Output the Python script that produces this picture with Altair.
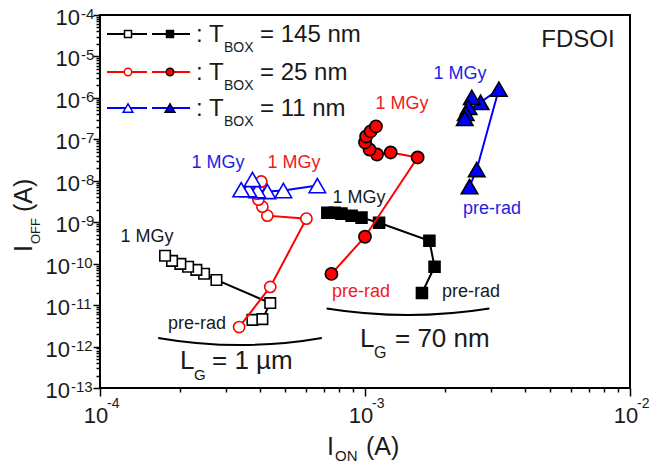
import math
import altair as alt
import pandas as pd

# ---------------- data ----------------
# T_BOX = 145 nm, L_G = 1 um (open squares), pre-rad -> 1 MGy
T145_1U_ION = [3.76e-4, 4.10e-4, 4.39e-4, 2.75e-4, 2.47e-4, 2.31e-4, 2.15e-4, 2.01e-4, 1.87e-4, 1.76e-4]
T145_1U_IOFF = [4.4e-12, 4.6e-12, 1.12e-11, 4.05e-11, 5.7e-11, 7.1e-11, 8.4e-11, 9.9e-11, 1.17e-10, 1.55e-10]
# T_BOX = 25 nm, L_G = 1 um (open circles)
T25_1U_ION = [3.35e-4, 4.39e-4, 6.01e-4, 4.28e-4, 4.10e-4, 3.96e-4, 3.89e-4, 3.96e-4, 4.06e-4]
T25_1U_IOFF = [2.95e-12, 2.74e-11, 1.22e-9, 1.44e-9, 2.37e-9, 3.51e-9, 4.9e-9, 6.8e-9, 9.6e-9]
# T_BOX = 11 nm, L_G = 1 um (open triangles)
T11_1U_ION = [6.61e-4, 4.92e-4, 4.28e-4, 3.92e-4, 3.63e-4, 3.41e-4, 3.76e-4]
T11_1U_IOFF = [7.65e-9, 5.8e-9, 5.5e-9, 5.8e-9, 6.1e-9, 6.1e-9, 1.07e-8]
# T_BOX = 145 nm, L_G = 70 nm (filled squares)
T145_70_ION = [1.64e-3, 1.83e-3, 1.75e-3, 1.13e-3, 9.7e-4, 8.9e-4, 8.15e-4, 7.67e-4, 7.21e-4]
T145_70_IOFF = [1.96e-11, 8.4e-11, 3.56e-10, 9.7e-10, 1.29e-9, 1.44e-9, 1.61e-9, 1.70e-9, 1.70e-9]
# T_BOX = 25 nm, L_G = 70 nm (filled circles)
T25_70_ION = [7.47e-4, 1.00e-3, 1.58e-3, 1.25e-3, 1.11e-3, 1.04e-3, 1.00e-3, 1.01e-3, 1.05e-3, 1.10e-3]
T25_70_IOFF = [5.66e-11, 4.46e-10, 3.65e-8, 4.82e-8, 4.31e-8, 5.69e-8, 8.4e-8, 1.17e-7, 1.55e-7, 2.05e-7]
# T_BOX = 11 nm, L_G = 70 nm (filled triangles)
T11_70_ION = [2.48e-3, 2.64e-3, 3.20e-3, 2.73e-3, 2.53e-3, 2.46e-3, 2.40e-3, 2.38e-3]
T11_70_IOFF = [7.24e-9, 1.87e-8, 1.62e-6, 7.82e-7, 1.03e-6, 5.92e-7, 4.24e-7, 3.21e-7]

# tick labels
X_DECADES = [1e-4, 1e-3, 1e-2]
X_EXPS = ["-4", "-3", "-2"]
Y_DECADES = [1e-4, 1e-5, 1e-6, 1e-7, 1e-8, 1e-9, 1e-10, 1e-11, 1e-12, 1e-13]
Y_EXPS = ["-4", "-5", "-6", "-7", "-8", "-9", "-10", "-11", "-12", "-13"]

LEGEND_VALUES = ["= 145 nm", "= 25 nm", "= 11 nm"]

# ---------------- layout ----------------
W, H = 530, 373
OX, OY = 100, 15          # plot origin on the page
FONT = "Liberation Sans"
RED = "#ff0000"
BLUE = "#0000ff"
TXT = "#1a1a1a"


def rx(v):
    return v - OX


def ry(v):
    return v - OY


XTICKS = [m * 10.0 ** e for e in (-4, -3) for m in range(1, 10)] + [1e-2]
YTICKS = [m * 10.0 ** e for e in range(-13, -4) for m in range(1, 10)] + [1e-4]
MAJOR = "abs(log(datum.value)/LN10 - round(log(datum.value)/LN10)) < 0.001"

xaxis = alt.Axis(values=XTICKS, labels=False, title=None, domain=False, grid=False,
                 ticks=True, tickColor="black", tickWidth=1.5,
                 tickSize={"condition": {"test": MAJOR, "value": 8}, "value": 4})
yaxis = alt.Axis(values=YTICKS, labels=False, title=None, domain=False, grid=False,
                 ticks=True, tickColor="black", tickWidth=1.5,
                 tickSize={"condition": {"test": MAJOR, "value": 7}, "value": 4})

X = alt.X("x:Q", scale=alt.Scale(type="log", domain=[1e-4, 1e-2]), axis=xaxis)
Y = alt.Y("y:Q", scale=alt.Scale(type="log", domain=[1e-13, 1e-4]), axis=yaxis)

dummy = pd.DataFrame({"a": [0]})


def series(xs, ys, color, shape, fill, stroke, size):
    df = pd.DataFrame({"x": xs, "y": ys, "o": list(range(len(xs)))})
    line = alt.Chart(df).mark_line(color=color, strokeWidth=2).encode(
        x=X, y=Y, order="o:Q")
    pts = alt.Chart(df).mark_point(shape=shape, filled=True, fill=fill, stroke=stroke,
                                   strokeWidth=1.6, size=size, opacity=1).encode(x=X, y=Y)
    return [line, pts]


def text(t, x, y, size=18, color=TXT, align="center", baseline="middle", angle=0):
    kw = dict(text=t, font=FONT, fontSize=size, color=color, align=align, baseline=baseline)
    if angle:
        kw["angle"] = angle
    return alt.Chart(dummy).mark_text(**kw).encode(x=alt.value(rx(x)), y=alt.value(ry(y)))


def brace(cx, cy, r, half):
    return alt.Chart(dummy).mark_arc(radius=r, radius2=r, theta=math.pi - half,
                                     theta2=math.pi + half, stroke="black",
                                     strokeWidth=2, fillOpacity=0).encode(
        x=alt.value(rx(cx)), y=alt.value(ry(cy)))


layers = []
# braces
layers.append(brace(240, -133, 478, 0.172))
layers.append(brace(408, -199, 514, 0.159))

# series
layers += series(T145_1U_ION, T145_1U_IOFF, "black", "square", "white", "black", 110)
layers += series(T25_1U_ION, T25_1U_IOFF, RED, "circle", "white", RED, 125)
layers += series(T11_1U_ION, T11_1U_IOFF, BLUE, "triangle-up", "white", BLUE, 270)
layers += series(T145_70_ION, T145_70_IOFF, "black", "square", "black", "black", 120)
layers += series(T25_70_ION, T25_70_IOFF, RED, "circle", RED, "black", 150)
layers += series(T11_70_ION, T11_70_IOFF, BLUE, "triangle-up", BLUE, "black", 270)

# annotations
layers.append(text("1 MGy", 147, 237))
layers.append(text("1 MGy", 218, 163, color="#1e1ee6"))
layers.append(text("1 MGy", 294, 163, color="#ee1c1c"))
layers.append(text("1 MGy", 359, 198))
layers.append(text("1 MGy", 402, 104, color="#ee1c1c"))
layers.append(text("1 MGy", 460, 74, color="#1e1ee6"))
layers.append(text("pre-rad", 197, 324))
layers.append(text("pre-rad", 361, 292, color="#ee1c1c"))
layers.append(text("pre-rad", 471, 292))
layers.append(text("pre-rad", 492, 209, color="#1e1ee6"))
layers.append(text("FDSOI", 578, 40, size=24))

# L_G labels
layers.append(text("L", 180, 369, size=26, align="left", baseline="alphabetic"))
layers.append(text("G", 194, 380, size=15, align="left", baseline="alphabetic"))
layers.append(text("= 1 µm", 212, 369, size=26, align="left", baseline="alphabetic"))
layers.append(text("L", 360, 347, size=26, align="left", baseline="alphabetic"))
layers.append(text("G", 374, 358, size=16, align="left", baseline="alphabetic"))
layers.append(text("= 70 nm", 395, 347, size=26, align="left", baseline="alphabetic"))

# legend
rows = [
    (34, "black", "square", "white", "black", "black", "black", 49, 49),
    (72, RED, "circle", "white", RED, RED, "black", 55, 55),
    (108, BLUE, "triangle-up", "white", BLUE, BLUE, "black", 95, 95),
]
for i, (yy, col, shp, f1, s1, f2, s2, z1, z2) in enumerate(rows):
    for (a, b, m, f, s, z) in ((107, 147, 128, f1, s1, z1), (152, 190, 170, f2, s2, z2)):
        layers.append(alt.Chart(dummy).mark_rule(color=col, strokeWidth=2).encode(
            x=alt.value(rx(a)), x2=alt.value(rx(b)), y=alt.value(ry(yy))))
        layers.append(alt.Chart(dummy).mark_point(shape=shp, filled=True, fill=f, stroke=s,
                                                  strokeWidth=1.5, size=z, opacity=1).encode(
            x=alt.value(rx(m)), y=alt.value(ry(yy))))
    base = yy + 8
    layers.append(text(": T", 196, base, size=24, align="left", baseline="alphabetic"))
    layers.append(text("BOX", 224, base + 10, size=14, align="left", baseline="alphabetic"))
    layers.append(text(LEGEND_VALUES[i], 260, base, size=24, align="left", baseline="alphabetic"))

# axis titles
layers.append(text("I", 32, 252, size=25, align="left", baseline="alphabetic", angle=270))
layers.append(text("OFF", 40, 244, size=13, align="left", baseline="alphabetic", angle=270))
layers.append(text("(A)", 32, 212, size=25, align="left", baseline="alphabetic", angle=270))
layers.append(text("I", 327, 455, size=25, align="left", baseline="alphabetic"))
layers.append(text("ON", 335, 461, size=15, align="left", baseline="alphabetic"))
layers.append(text("(A)", 366, 455, size=25, align="left", baseline="alphabetic"))

# tick labels
xlab = pd.DataFrame({"x": X_DECADES, "e": X_EXPS})
layers.append(alt.Chart(xlab).mark_text(text="10", font=FONT, fontSize=22, color=TXT,
                                        align="center", baseline="alphabetic", dx=-4).encode(
    x=X, y=alt.value(ry(423))))
layers.append(alt.Chart(xlab).mark_text(font=FONT, fontSize=14, color=TXT,
                                        align="left", baseline="alphabetic", dx=7).encode(
    x=X, y=alt.value(ry(408)), text="e:N"))

ylab = pd.DataFrame({"y": Y_DECADES, "e": Y_EXPS})
for cond, tenx, expx in (("length(datum.e) < 3", -20, -19), ("length(datum.e) >= 3", -30, -29)):
    layers.append(alt.Chart(ylab).transform_filter(cond).mark_text(
        text="10", font=FONT, fontSize=22, color=TXT, align="right",
        baseline="alphabetic", dy=10).encode(x=alt.value(tenx), y=Y))
    layers.append(alt.Chart(ylab).transform_filter(cond).mark_text(
        font=FONT, fontSize=15, color=TXT, align="left",
        baseline="alphabetic", dy=4).encode(x=alt.value(expx), y=Y, text="e:N"))

chart = alt.layer(*layers).properties(
    width=W, height=H,
    padding={"left": 92, "top": 7, "right": 20, "bottom": 76},
    autosize="none",
).configure_view(stroke="black", strokeWidth=2).configure_axis(tickColor="black")

chart.save("out.html", embed_options={"renderer": "svg", "actions": False})
